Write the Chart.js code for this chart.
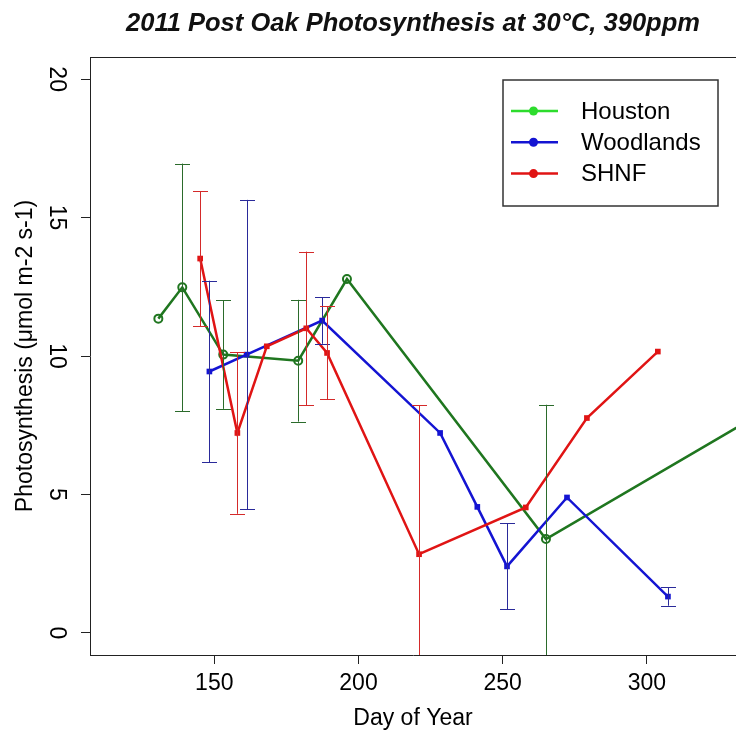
<!DOCTYPE html>
<html>
<head>
<meta charset="utf-8">
<script src="https://cdn.jsdelivr.net/npm/chart.js@4.4.1/dist/chart.umd.min.js"></script>
<style>
  html, body { margin: 0; padding: 0; background: #fff; overflow: hidden; }
  canvas { display: block; }
</style>
</head>
<body>
<canvas id="myChart" width="736" height="733"></canvas>
<script>
// values (day of year, photosynthesis, error half-width)
const houstonDay = [130.6, 138.9, 153.1, 179.1, 196.0, 265.0, 350];
const houstonVal = [11.35, 12.48, 10.05, 9.83, 12.78, 3.39, 8.56];
const houstonErr = [null, 4.47, 1.96, 2.2, null, 4.85, null];

const woodDay = [148.3, 161.2, 187.4, 228.3, 241.2, 251.5, 272.3, 307.3];
const woodVal = [9.44, 10.05, 11.28, 7.22, 4.55, 2.40, 4.89, 1.31];
const woodErr = [3.28, 5.59, 0.84, null, null, 1.55, null, 0.33];

const shnfDay = [145.1, 158.0, 168.2, 181.9, 189.1, 221.0, 258.0, 279.2, 303.8];
const shnfVal = [13.52, 7.22, 10.35, 11.0, 10.11, 2.84, 4.53, 7.76, 10.16];
const shnfErr = [2.44, 2.92, null, 2.77, 1.68, 5.39, null, null, null];

const seriesNames = ['Houston', 'Woodlands', 'SHNF'];
const xTicks = [150, 200, 250, 300];
const yTicks = [0, 5, 10, 15, 20];

const lineColors = ['#1f761f', '#1414d2', '#e01414'];
const barColors = ['#2b6b2b', '#2a2a9a', '#d42a2a'];
const keyColors = ['#2ddc2d', '#1414d2', '#e01414'];
const errs = [houstonErr, woodErr, shnfErr];

const fontFam = '"Liberation Sans", Arial, sans-serif';
Chart.defaults.color = '#000';
Chart.defaults.font.family = fontFam;

function toPoints(days, vals) {
  return days.map((d, i) => ({ x: d, y: vals[i] }));
}

const errorBars = {
  id: 'errorBars',
  afterDatasetsDraw(chart) {
    const { ctx, chartArea, scales: { x, y } } = chart;
    ctx.save();
    ctx.beginPath();
    ctx.rect(chartArea.left, chartArea.top, chartArea.width, chartArea.height);
    ctx.clip();
    ctx.lineWidth = 1;
    chart.data.datasets.forEach((ds, i) => {
      ctx.strokeStyle = barColors[i];
      ds.data.forEach((p, j) => {
        const e = errs[i][j];
        if (e == null) return;
        const px = Math.round(x.getPixelForValue(p.x)) + 0.5;
        const top = y.getPixelForValue(p.y + e);
        const bot = y.getPixelForValue(p.y - e);
        ctx.beginPath();
        ctx.moveTo(px, top);
        ctx.lineTo(px, bot);
        ctx.moveTo(px - 7.5, Math.round(top) + 0.5);
        ctx.lineTo(px + 7.5, Math.round(top) + 0.5);
        ctx.moveTo(px - 7.5, Math.round(bot) + 0.5);
        ctx.lineTo(px + 7.5, Math.round(bot) + 0.5);
        ctx.stroke();
      });
    });
    ctx.restore();
  }
};

// box top edge and the legend in the upper right
const boxAndKey = {
  id: 'boxAndKey',
  afterDraw(chart) {
    const { ctx, chartArea: { top, left, right } } = chart;
    ctx.save();
    ctx.strokeStyle = '#222';
    ctx.lineWidth = 1;
    ctx.beginPath();
    ctx.moveTo(left, top + 0.5);
    ctx.lineTo(right, top + 0.5);
    ctx.stroke();

    ctx.lineWidth = 1.5;
    ctx.strokeStyle = '#333';
    ctx.fillStyle = '#fff';
    ctx.fillRect(503, 80, 215, 126);
    ctx.strokeRect(503, 80, 215, 126);
    ctx.font = '24px ' + fontFam;
    ctx.textBaseline = 'middle';
    ctx.textAlign = 'left';
    seriesNames.forEach((name, i) => {
      const ry = 111 + i * 31.3;
      ctx.strokeStyle = keyColors[i];
      ctx.fillStyle = keyColors[i];
      ctx.lineWidth = 2.5;
      ctx.beginPath();
      ctx.moveTo(511, ry);
      ctx.lineTo(558, ry);
      ctx.stroke();
      ctx.beginPath();
      ctx.arc(533.5, ry, 4.5, 0, Math.PI * 2);
      ctx.fill();
      ctx.fillStyle = '#000';
      ctx.fillText(name, 581, ry + 1);
    });
    ctx.restore();
  }
};

var ctx1 = document.getElementById('myChart');

var myChart = new Chart(ctx1, {
  type: 'line',
  data: {
    datasets: [{
      label: seriesNames[0],
      data: toPoints(houstonDay, houstonVal),
      borderColor: lineColors[0],
      backgroundColor: '#fff',
      borderWidth: 2.5,
      pointStyle: 'circle',
      pointRadius: 4,
      pointBorderWidth: 2,
      pointBorderColor: lineColors[0],
      pointBackgroundColor: 'rgba(255,255,255,0)',
      order: 2
    }, {
      label: seriesNames[1],
      data: toPoints(woodDay, woodVal),
      borderColor: lineColors[1],
      backgroundColor: lineColors[1],
      borderWidth: 2.5,
      pointStyle: 'rect',
      pointRadius: 4,
      pointBorderWidth: 0,
      order: 1
    }, {
      label: seriesNames[2],
      data: toPoints(shnfDay, shnfVal),
      borderColor: lineColors[2],
      backgroundColor: lineColors[2],
      borderWidth: 2.5,
      pointStyle: 'rect',
      pointRadius: 4,
      pointBorderWidth: 0,
      order: 0
    }]
  },
  options: {
    responsive: false,
    animation: false,
    devicePixelRatio: 1,
    layout: { padding: 0, autoPadding: false },
    plugins: {
      legend: { display: false },
      tooltip: { enabled: false },
      title: {
        display: true,
        fullSize: false,
        text: '2011 Post Oak Photosynthesis at 30°C, 390ppm',
        color: '#111',
        font: { size: 25.5, weight: 'bold', style: 'italic', family: fontFam },
        padding: { top: 9, bottom: 17.4 }
      }
    },
    scales: {
      x: {
        type: 'linear',
        min: 106.9,
        max: 330.9,
        afterBuildTicks: (scale) => { scale.ticks = xTicks.map(v => ({ value: v })); },
        afterFit: (scale) => { scale.height = 78; },
        grid: { drawOnChartArea: false, drawTicks: true, tickLength: 9, color: '#222' },
        border: { display: true, color: '#222', width: 1 },
        ticks: { font: { size: 23 }, padding: 6, maxRotation: 0 },
        title: { display: true, text: 'Day of Year', font: { size: 23 }, padding: { top: 0, bottom: 1 } }
      },
      y: {
        type: 'linear',
        min: -0.8,
        max: 20.8,
        afterBuildTicks: (scale) => { scale.ticks = yTicks.map(v => ({ value: v })); },
        afterFit: (scale) => { scale.width = 90; },
        grid: { drawOnChartArea: false, drawTicks: true, tickLength: 9, color: '#222' },
        border: { display: true, color: '#222', width: 1 },
        ticks: { font: { size: 23 }, padding: 12, minRotation: -90, maxRotation: -90, crossAlign: 'center' },
        title: { display: true, text: 'Photosynthesis (μmol m-2 s-1)', font: { size: 23 }, padding: { top: 12, bottom: 0 } }
      }
    }
  },
  plugins: [errorBars, boxAndKey]
});
</script>
</body>
</html>
